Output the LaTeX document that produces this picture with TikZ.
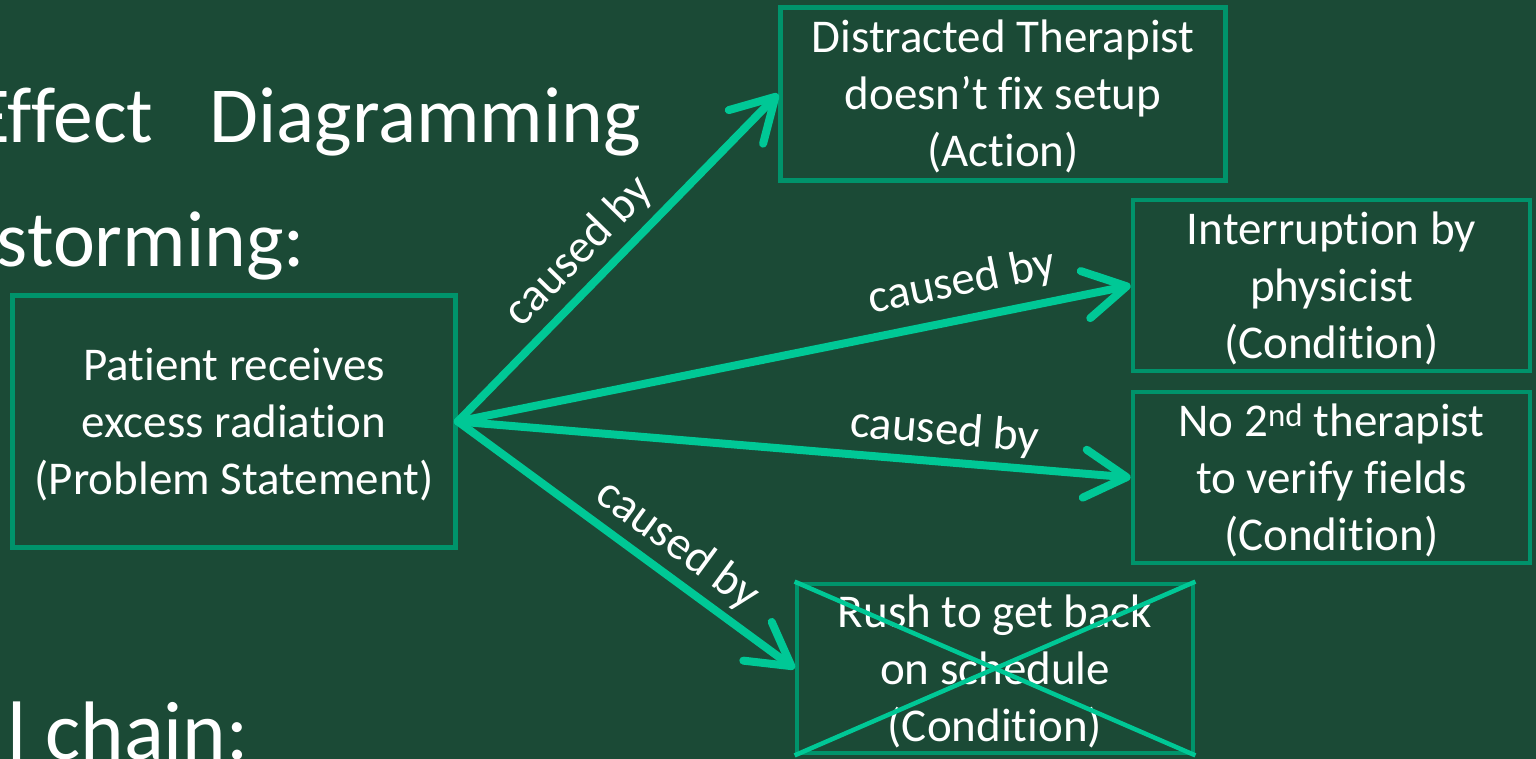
\documentclass[tikz,border=0pt]{standalone}
\usepackage{fontspec}
\setmainfont{Carlito}[Ligatures=NoCommon]
\usetikzlibrary{arrows.meta}
\definecolor{bg}{HTML}{1B4A36}
\definecolor{boxline}{HTML}{00936B}
\definecolor{arrowc}{HTML}{00C896}
\newcommand{\topstrutx}{\rule{0pt}{42pt}}
\newcommand{\botstrutx}{\rule[-11pt]{0pt}{11pt}}
\tikzset{
  box/.style={draw=boxline, line width=4.8pt, rectangle, inner sep=0pt, align=center,
    text=white, font=\fontsize{47}{57}\selectfont},
  arr/.style={draw=arrowc, line width=8pt, line cap=round,
    -{Straight Barb[length=42pt,width=48pt,round]}},
  lbl/.style={text=white, font=\fontsize{47}{52}\selectfont, inner sep=0pt, sloped},
  titletext/.style={text=white, font=\fontsize{79.5}{90}\selectfont, inner sep=0pt, anchor=base east},
  crossline/.style={draw=arrowc, line width=4.5pt}
}
\begin{document}
\begin{tikzpicture}[x=1pt,y=-1pt]
\useasboundingbox (0,0) rectangle (1536,759);
\fill[bg] (0,0) rectangle (1536,759);
\begin{scope}
\clip (0,0) rectangle (1536,759);
\node[titletext] (t1) at (641,143) {Effect\hspace{38pt} Diagramming};
\node[titletext] (t2) at (305,267) {storming:};
\node[titletext, font=\fontsize{83}{90}\selectfont] (t3) at (249,759) {l chain:};

\node[box, minimum width=443pt, minimum height=252pt] (pb) at (234,421.5)
  {\topstrutx Patient receives\\excess radiation\\(Problem Statement)\botstrutx};
\node[box, minimum width=445pt, minimum height=173pt] (d) at (1003,94)
  {\topstrutx Distracted Therapist\\doesn’t fix setup\\(Action)\botstrutx};
\node[box, minimum width=397pt, minimum height=171pt] (i) at (1331.5,285.5)
  {\topstrutx Interruption by\\physicist\\(Condition)\botstrutx};
\node[box, minimum width=397pt, minimum height=171pt] (n) at (1331.5,477.5)
  {\topstrutx No 2\textsuperscript{nd} therapist\\to verify fields\\(Condition)\botstrutx};
\node[box, minimum width=396pt, minimum height=169pt] (r) at (995,668.5)
  {\topstrutx Rush to get back\\on schedule\\(Condition)\botstrutx};
\draw[crossline] (r.north west) -- (r.south east);
\draw[crossline] (r.south west) -- (r.north east);

\draw[arr] (pb.east) -- node[lbl, pos=0.45, above=8pt] (l1) {caused by} (d.west);
\draw[arr] (pb.east) -- node[lbl, pos=0.76, above=12pt] (l2) {caused by} (i.west);
\draw[arr] (pb.east) -- node[lbl, pos=0.72, above=6pt] (l3) {caused by} (n.west);
\draw[arr] (pb.east) -- node[lbl, pos=0.6, above=6pt] (l4) {caused by} (r.west);
\end{scope}
\end{tikzpicture}
\end{document}
